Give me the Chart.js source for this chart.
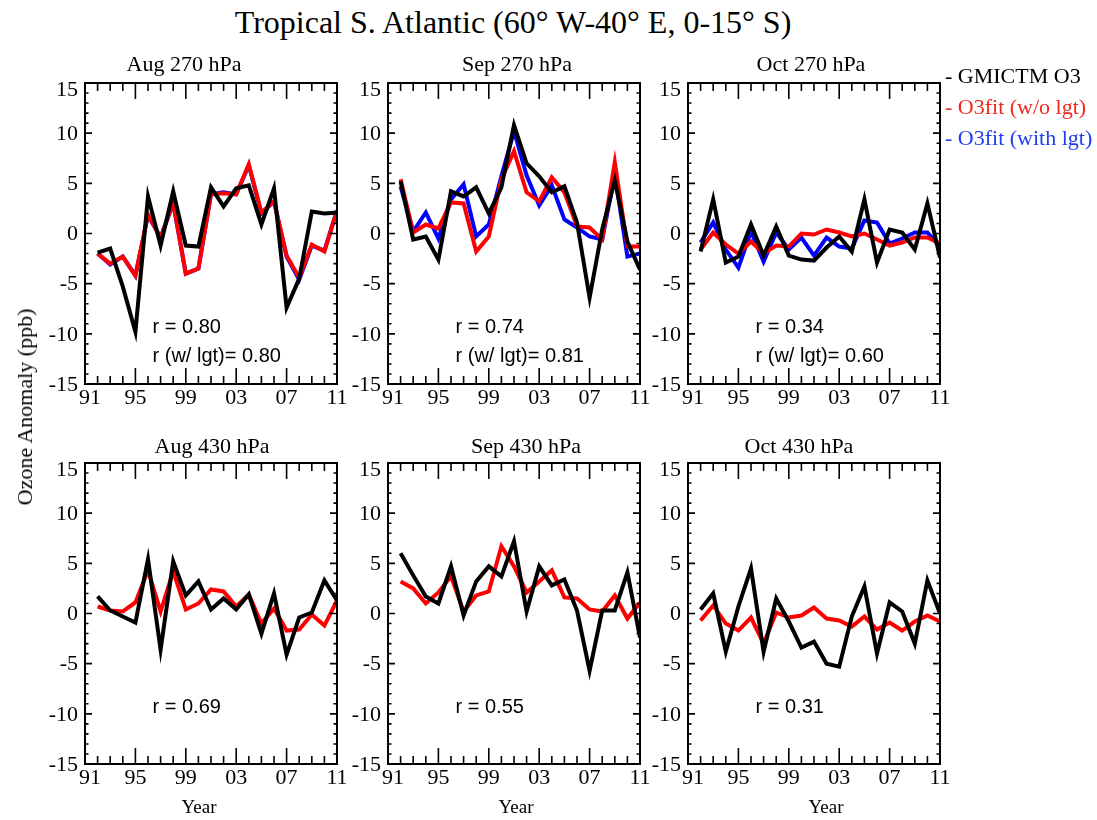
<!DOCTYPE html>
<html>
<head>
<meta charset="utf-8">
<title>Tropical S. Atlantic ozone anomalies</title>
<script src="https://cdn.jsdelivr.net/npm/chart.js@4.4.1/dist/chart.umd.min.js"></script>
<style>
  html, body { margin: 0; padding: 0; background: #fff; }
  #page { position: relative; width: 1097px; height: 820px; overflow: hidden; background: #fff; }
  canvas.panel { position: absolute; }
  .txt { position: absolute; white-space: nowrap; line-height: 1; color: #000; }
  .serif { font-family: "Liberation Serif", "Times New Roman", serif; }
  .sans { font-family: "Liberation Sans", Arial, sans-serif; }
</style>
</head>
<body>
<div id="page"></div>
<script>
// ---- data: ozone anomaly (ppb), one value per year ----
const years = [1992, 1993, 1994, 1995, 1996, 1997, 1998, 1999, 2000, 2001,
               2002, 2003, 2004, 2005, 2006, 2007, 2008, 2009, 2010, 2011];

const xTickYears = [1991, 1995, 1999, 2003, 2007, 2011];
const yTickValues = [-15, -10, -5, 0, 5, 10, 15];

// Aug 270 hPa
const aug270Gmi = [-1.9, -1.5, -5.3, -9.8, 3.7, -1.2, 4.2, -1.2, -1.3, 4.6, 2.7, 4.5, 4.8, 0.9, 4.5, -7.4, -4.5, 2.2, 2.0, 2.1];
const aug270Fit = [-2.0, -3.0, -2.3, -4.2, 1.9, -0.4, 3.1, -4.0, -3.5, 3.9, 4.0, 3.9, 6.9, 2.1, 3.2, -2.2, -4.4, -1.1, -1.8, 2.3];
const aug270Lgt = [-2.0, -3.1, -2.3, -4.2, 1.8, -0.4, 3.0, -4.0, -3.5, 3.9, 4.1, 3.9, 6.8, 2.0, 3.2, -2.3, -4.6, -1.2, -1.7, 2.3];

// Sep 270 hPa
const sep270Gmi = [5.2, -0.6, -0.3, -2.6, 4.2, 3.7, 4.6, 2.0, 4.6, 10.8, 7.0, 5.7, 4.1, 4.7, 1.1, -6.4, 0.4, 5.3, -0.8, -3.6];
const sep270Fit = [5.4, 0.1, 0.9, 0.5, 3.1, 3.0, -1.8, -0.3, 5.4, 8.2, 4.1, 3.2, 5.6, 4.1, 0.7, 0.6, -0.6, 7.1, -1.3, -1.3];
const sep270Lgt = [4.7, 0.2, 2.1, -0.5, 3.4, 4.9, -0.3, 0.9, 5.7, 10.2, 5.8, 2.8, 4.8, 1.4, 0.6, -0.3, -0.6, 5.9, -2.3, -2.0];

// Oct 270 hPa
const oct270Gmi = [-1.8, 3.4, -2.9, -2.3, 0.9, -2.2, 0.7, -2.2, -2.6, -2.7, -1.4, -0.3, -1.8, 3.4, -2.9, 0.4, 0.1, -1.6, 3.0, -2.4];
const oct270Fit = [-1.6, 0.1, -1.1, -2.0, -0.8, -2.0, -1.2, -1.3, 0.0, -0.1, 0.4, 0.1, -0.3, 0.0, -0.6, -1.2, -0.9, -0.4, -0.4, -1.0];
const oct270Lgt = [-0.9, 1.1, -1.6, -3.4, 0.2, -2.8, 0.1, -1.6, -0.4, -2.2, -0.4, -1.3, -1.5, 1.3, 1.1, -1.0, -0.5, 0.1, 0.1, -1.3];

// Aug 430 hPa
const aug430Gmi = [1.7, 0.3, -0.3, -0.9, 5.4, -3.6, 5.2, 1.8, 3.2, 0.4, 1.5, 0.4, 1.9, -2.0, 2.0, -4.1, -0.4, 0.1, 3.3, 1.3];
const aug430Fit = [0.7, 0.3, 0.2, 1.1, 4.3, 0.2, 4.2, 0.4, 1.0, 2.4, 2.2, 0.7, 1.9, -1.0, 0.5, -1.7, -1.6, -0.1, -1.2, 1.3];

// Sep 430 hPa
const sep430Gmi = [6.0, 3.8, 1.7, 1.0, 4.7, -0.2, 3.2, 4.7, 3.7, 7.2, 0.2, 4.7, 2.8, 3.4, 0.3, -5.7, 0.3, 0.3, 4.1, -2.4];
const sep430Fit = [3.2, 2.5, 1.0, 2.1, 3.7, 0.2, 1.8, 2.2, 6.7, 4.7, 2.1, 3.2, 4.3, 1.6, 1.5, 0.4, 0.2, 1.8, -0.5, 1.1];

// Oct 430 hPa
const oct430Gmi = [0.4, 2.0, -3.8, 0.7, 4.5, -3.8, 1.5, -0.8, -3.4, -2.8, -5.0, -5.3, -0.3, 2.7, -4.0, 1.1, 0.2, -3.0, 3.3, 0.0];
const oct430Fit = [-0.7, 0.8, -1.0, -1.7, -0.4, -3.0, 0.1, -0.4, -0.2, 0.6, -0.5, -0.7, -1.3, -0.3, -1.6, -0.9, -1.7, -0.8, -0.2, -0.8];

// panel contents (row-major: 270 hPa row, then 430 hPa row)
const panelTitles = ['Aug 270 hPa', 'Sep 270 hPa', 'Oct 270 hPa', 'Aug 430 hPa', 'Sep 430 hPa', 'Oct 430 hPa'];
const gmiSeries = [aug270Gmi, sep270Gmi, oct270Gmi, aug430Gmi, sep430Gmi, oct430Gmi];
const fitSeries = [aug270Fit, sep270Fit, oct270Fit, aug430Fit, sep430Fit, oct430Fit];
const lgtSeries = [aug270Lgt, sep270Lgt, oct270Lgt, null, null, null];
const rFit = ['0.80', '0.74', '0.34', '0.69', '0.55', '0.31'];
const rLgt = ['0.80', '0.81', '0.60', null, null, null];

const seriesNames = ['GMICTM O3', 'O3fit (w/o lgt)', 'O3fit (with lgt)'];

// ---- layout ----
const COLOR_GMI = '#000000';
const COLOR_FIT = '#ff0000';
const COLOR_LGT = '#0000ff';
const FRAME_LEFT = [85, 388, 688];
const FRAME_TOP = [83, 463];
const FRAME_W = 252;
const FRAME_H = 301;
const PAD_L = 60, PAD_T = 20, PAD_R = 20, PAD_B = 40;
const TITLE_SHIFT = [-27, 3, -3, 1, 12, -15];
const YEAR_SHIFT = [-12, 2, 12];
const SERIF = '"Liberation Serif", "Times New Roman", serif';

const page = document.getElementById('page');

// place a text line so that its alphabetic baseline sits at y
function addText(str, x, baseline, size, cls, opts = {}) {
  const d = document.createElement('div');
  d.className = 'txt ' + cls;
  d.textContent = str;
  d.style.fontSize = size + 'px';
  const asc = cls === 'serif' ? 0.8375 : 0.8465;
  d.style.top = (baseline - asc * size) + 'px';
  d.style.left = x + 'px';
  if (opts.center) d.style.transform = 'translateX(-50%)';
  if (opts.color) d.style.color = opts.color;
  page.appendChild(d);
  return d;
}

// frame with inward ticks on all four sides, plus tick labels
const framePlugin = {
  id: 'idlFrame',
  afterDatasetsDraw(chart) {
    const { ctx, chartArea: a, scales: { x, y } } = chart;
    ctx.save();
    ctx.strokeStyle = '#000';
    ctx.lineCap = 'butt';
    ctx.lineWidth = 1.6;
    ctx.beginPath();
    for (let yr = x.min; yr <= x.max; yr += 1) {
      const px = x.getPixelForValue(yr);
      const len = xTickYears.includes(yr) ? 16 : 8;
      ctx.moveTo(px, a.bottom); ctx.lineTo(px, a.bottom - len);
      ctx.moveTo(px, a.top); ctx.lineTo(px, a.top + len);
    }
    for (let v = y.min; v <= y.max; v += 1) {
      const py = y.getPixelForValue(v);
      const len = yTickValues.includes(v) ? 7 : 3.5;
      ctx.moveTo(a.left, py); ctx.lineTo(a.left + len, py);
      ctx.moveTo(a.right, py); ctx.lineTo(a.right - len, py);
    }
    ctx.stroke();
    ctx.lineWidth = 2;
    ctx.strokeRect(a.left, a.top, a.right - a.left, a.bottom - a.top);

    ctx.fillStyle = '#000';
    ctx.font = '22px ' + SERIF;
    ctx.textAlign = 'right';
    ctx.textBaseline = 'middle';
    y.ticks.forEach(t => {
      const nudge = t.value === y.max ? 7 : 1;
      ctx.fillText(String(t.value), a.left - 7, y.getPixelForValue(t.value) + nudge);
    });
    ctx.textAlign = 'center';
    ctx.textBaseline = 'alphabetic';
    x.ticks.forEach(t => {
      const label = String(t.value % 100).padStart(2, '0');
      const nudge = t.value === x.min ? 5 : 0;
      ctx.fillText(label, x.getPixelForValue(t.value) + nudge, a.bottom + 20);
    });
    ctx.restore();
  }
};

function toPoints(values) {
  return values.map((v, i) => ({ x: years[i], y: v }));
}

for (let p = 0; p < 6; p++) {
  const row = Math.floor(p / 3), col = p % 3;
  const left = FRAME_LEFT[col], top = FRAME_TOP[row];

  const canvas = document.createElement('canvas');
  canvas.className = 'panel';
  canvas.width = FRAME_W + PAD_L + PAD_R;
  canvas.height = FRAME_H + PAD_T + PAD_B;
  canvas.style.left = (left - PAD_L) + 'px';
  canvas.style.top = (top - PAD_T) + 'px';
  page.appendChild(canvas);

  const line = (label, values, color) => ({
    label, data: toPoints(values), borderColor: color, backgroundColor: color,
    borderWidth: 4, pointRadius: 0, tension: 0, fill: false,
    borderJoinStyle: 'miter', borderCapStyle: 'butt'
  });
  // first dataset is painted last, so the model series sits on top
  const datasets = [line(seriesNames[0], gmiSeries[p], COLOR_GMI), line(seriesNames[1], fitSeries[p], COLOR_FIT)];
  if (lgtSeries[p]) datasets.push(line(seriesNames[2], lgtSeries[p], COLOR_LGT));

  new Chart(canvas, {
    type: 'line',
    data: { datasets },
    options: {
      responsive: false,
      animation: false,
      events: [],
      layout: { padding: { left: 0, top: PAD_T, right: PAD_R, bottom: 0 } },
      plugins: { legend: { display: false }, tooltip: { enabled: false }, title: { display: false } },
      scales: {
        x: {
          type: 'linear', min: 1991, max: 2011,
          grid: { display: false }, border: { display: false },
          ticks: { display: false },
          afterBuildTicks: s => { s.ticks = xTickYears.map(v => ({ value: v })); },
          afterFit: s => { s.height = PAD_B; }
        },
        y: {
          type: 'linear', min: -15, max: 15,
          grid: { display: false }, border: { display: false },
          ticks: { display: false, stepSize: 5 },
          afterBuildTicks: s => { s.ticks = yTickValues.map(v => ({ value: v })); },
          afterFit: s => { s.width = PAD_L; }
        }
      }
    },
    plugins: [framePlugin]
  });

  // panel title
  addText(panelTitles[p], left + FRAME_W / 2 + TITLE_SHIFT[p], top - (row === 0 ? 12 : 10), 22, 'serif', { center: true });
  // correlation notes
  addText('r = ' + rFit[p], left + 67.5, top + 250, 20, 'sans');
  if (rLgt[p]) addText('r (w/ lgt)= ' + rLgt[p], left + 67.5, top + 278.5, 20, 'sans');
  // x-axis name under the lower row
  if (row === 1) addText('Year', left + FRAME_W / 2 + YEAR_SHIFT[col], 813, 19, 'serif', { center: true });
}

// figure title
addText('Tropical S. Atlantic (60\u00B0 W-40\u00B0 E, 0-15\u00B0 S)', 513, 33, 32, 'serif', { center: true });

// legend
addText('- ' + seriesNames[0], 945, 83, 22, 'serif', { color: COLOR_GMI });
addText('- ' + seriesNames[1], 945, 114, 22, 'serif', { color: '#f0281e' });
addText('- ' + seriesNames[2], 945, 145, 22, 'serif', { color: '#1e3cf0' });

// y-axis name, rotated
const yl = document.createElement('div');
yl.className = 'txt serif';
yl.textContent = 'Ozone Anomaly (ppb)';
yl.style.fontSize = '22px';
yl.style.left = '25px';
yl.style.top = '407px';
yl.style.transform = 'translate(-50%, -50%) rotate(-90deg)';
page.appendChild(yl);
</script>
</body>
</html>
